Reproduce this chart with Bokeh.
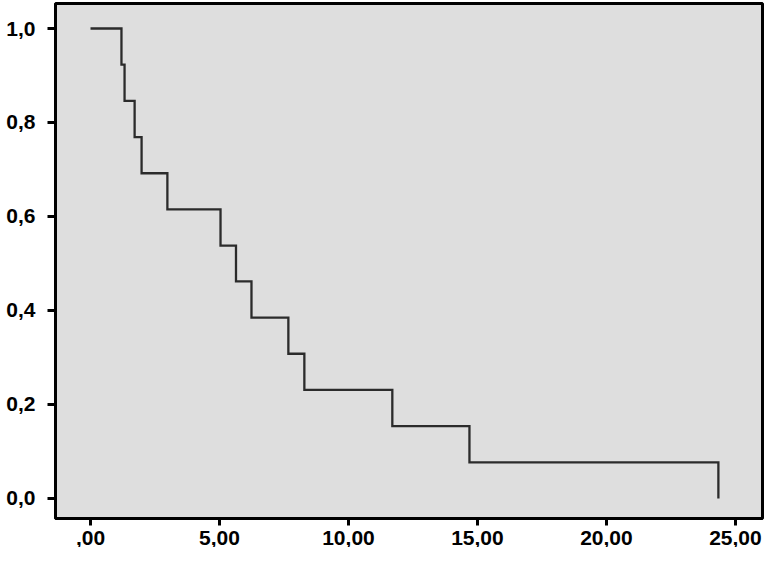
from bokeh.plotting import figure
from bokeh.models import Range1d, FixedTicker
from bokeh.embed import file_html
from bokeh.resources import INLINE

# Kaplan-Meier survival estimate (time, cumulative survival)
times = [0.0, 1.20, 1.32, 1.71, 1.98, 2.98, 5.04, 5.64, 6.24, 7.67, 8.29, 11.70, 14.69, 24.34]
survival = [1.0, 0.923, 0.846, 0.769, 0.692, 0.615, 0.538, 0.462, 0.385, 0.308, 0.231, 0.154, 0.077, 0.0]

x_ticks = [0, 5, 10, 15, 20, 25]
x_tick_labels = [",00", "5,00", "10,00", "15,00", "20,00", "25,00"]
y_ticks = [0.0, 0.2, 0.4, 0.6, 0.8, 1.0]
y_tick_labels = ["0,0", "0,2", "0,4", "0,6", "0,8", "1,0"]

p = figure(
    frame_width=707, frame_height=515,
    output_backend="svg", toolbar_location=None,
    x_range=Range1d(-1.357, 26.05), y_range=Range1d(-0.0426, 1.0532),
    min_border_left=55, min_border_top=3, min_border_right=2, min_border_bottom=0,
)
p.background_fill_color = "#dedede"
p.border_fill_color = "white"
p.outline_line_color = "black"
p.outline_line_width = 3
p.grid.visible = False

p.step(times, survival, mode="after", line_color="#2b2b2b", line_width=2.3, line_join="miter")

for ax, ticks, labels in ((p.xaxis[0], x_ticks, x_tick_labels), (p.yaxis[0], y_ticks, y_tick_labels)):
    ax.ticker = FixedTicker(ticks=ticks)
    ax.major_label_overrides = {t: l for t, l in zip(ticks, labels)}
    ax.minor_tick_line_color = None
    ax.major_tick_in = 0
    ax.major_tick_out = 8
    ax.major_tick_line_width = 3
    ax.major_tick_line_color = "black"
    ax.axis_line_width = 3
    ax.axis_line_color = "black"
    ax.major_label_text_font = "Liberation Sans"
    ax.major_label_text_font_style = "bold"
    ax.major_label_text_font_size = "21px"
    ax.major_label_text_color = "black"

p.yaxis[0].major_label_standoff = 12
p.xaxis[0].major_tick_out = 7
p.xaxis[0].major_label_standoff = 5

open("out.html", "w").write(file_html(p, INLINE))
